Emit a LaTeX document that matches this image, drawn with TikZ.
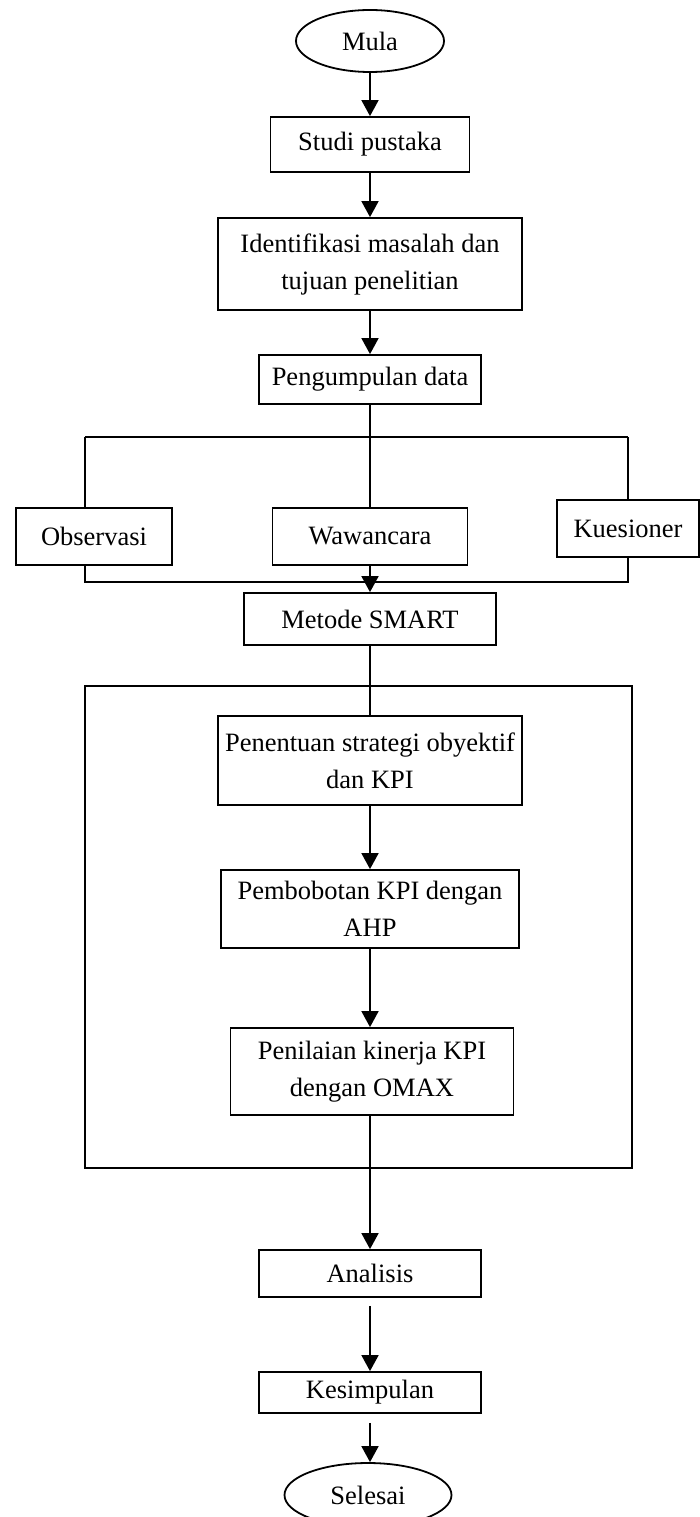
\documentclass[tikz,border=0pt]{standalone}
\usepackage{fontspec}
\setmainfont{Liberation Serif}
\usetikzlibrary{shapes.geometric,arrows.meta}
\begin{document}
\begin{tikzpicture}[x=1pt,y=-1pt,
  every node/.style={font=\fontsize{26.5}{37}\selectfont},
  flowbox/.style={draw,line width=1.8pt,inner sep=0pt,align=center},
  term/.style={draw,ellipse,line width=1.8pt,inner sep=0pt,align=center},
  line/.style={line width=1.8pt},
  arr/.style={line width=1.8pt,-{Triangle[width=17pt,length=16pt]}}]
\useasboundingbox (0,0) rectangle (699,1517);
\node[term,minimum width=148pt,minimum height=62pt] (mula) at (370,41) {\raisebox{-8pt}{Mula}};
\node[flowbox,minimum width=199pt,minimum height=55pt] (studi) at (370,144.5) {Studi pustaka};
\node[flowbox,minimum width=304pt,minimum height=92pt] (ident) at (370,264) {Identifikasi masalah dan\\tujuan penelitian};
\node[flowbox,minimum width=222pt,minimum height=49pt] (pengum) at (370,379.5) {Pengumpulan data};
\node[flowbox,minimum width=156pt,minimum height=57pt] (obs) at (94,536.5) {Observasi};
\node[flowbox,minimum width=195pt,minimum height=57pt] (waw) at (370,536.5) {Wawancara};
\node[flowbox,minimum width=142pt,minimum height=57pt] (kues) at (628,528.5) {Kuesioner};
\node[flowbox,minimum width=252pt,minimum height=52pt] (smart) at (370,619) {Metode SMART};
\draw[line] (85,686) rectangle (632,1168);
\node[flowbox,minimum width=304pt,minimum height=89pt] (pen) at (370,760.5) {Penentuan strategi obyektif\\dan KPI};
\node[flowbox,minimum width=298pt,minimum height=78pt] (pemb) at (370,909) {Pembobotan KPI dengan\\AHP};
\node[flowbox,minimum width=283pt,minimum height=87pt] (peni) at (372,1071.5) {Penilaian kinerja KPI\\dengan OMAX};
\node[flowbox,minimum width=222pt,minimum height=47pt] (anal) at (370,1273.5) {Analisis};
\node[flowbox,minimum width=222pt,minimum height=41pt] (kesi) at (370,1392.5) {\raisebox{4pt}{Kesimpulan}};
\node[term,minimum width=167pt,minimum height=64pt] (sel) at (368,1495) {\raisebox{-8pt}{Selesai}};
\coordinate (bl) at (85,437);
\coordinate (br) at (628,437);
\coordinate (bbl) at (85,582);
\coordinate (bbr) at (628,582);
\draw[arr] (mula) -- (studi);
\draw[arr] (studi) -- (ident);
\draw[arr] (ident) -- (pengum);
\draw[line] (pengum) -- (waw);
\draw[line] (bl) -- (br);
\draw[line] (bl) -- (bl |- obs.north);
\draw[line] (br) -- (kues.north);
\draw[line] (bl |- obs.south) -- (bbl) -- (bbr) -- (kues.south);
\draw[arr] (waw) -- (smart);
\draw[line] (smart) -- (pen);
\draw[arr] (pen) -- (pemb);
\draw[arr] (pemb) -- (pemb |- peni.north);
\draw[arr] (pemb |- peni.south) -- (anal);
\draw[arr,shorten <=8pt] (anal) -- (kesi);
\draw[arr,shorten <=9pt] (kesi.south) -- (kesi.south |- sel.north);
\end{tikzpicture}
\end{document}
